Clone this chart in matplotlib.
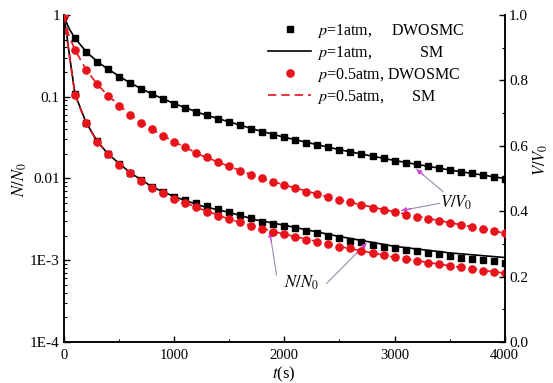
import matplotlib
matplotlib.use("Agg")
import matplotlib.pyplot as plt
import numpy as np
from matplotlib.ticker import FixedLocator, LogLocator, MultipleLocator, NullFormatter
from matplotlib.lines import Line2D

plt.rcParams['font.family'] = ['Liberation Serif', 'DejaVu Serif']
plt.rcParams['mathtext.fontset'] = 'stix'

# tiempos de los puntos DWOSMC (cada 100 s)
t_dw = np.arange(0, 4001, 100)

# V/V0 (eje derecho)
v_1atm_dw = [1.0, 0.929, 0.888, 0.857, 0.834, 0.810, 0.791, 0.774, 0.758, 0.742,
             0.728, 0.717, 0.704, 0.694, 0.681, 0.674, 0.664, 0.651, 0.643, 0.633,
             0.626, 0.618, 0.609, 0.602, 0.595, 0.588, 0.580, 0.574, 0.569, 0.562,
             0.554, 0.548, 0.544, 0.538, 0.533, 0.526, 0.521, 0.516, 0.511, 0.504, 0.498]
v_05atm_dw = [1.0, 0.893, 0.832, 0.788, 0.752, 0.722, 0.694, 0.671, 0.650, 0.630,
              0.613, 0.595, 0.579, 0.565, 0.551, 0.538, 0.524, 0.511, 0.501, 0.490,
              0.480, 0.470, 0.460, 0.452, 0.443, 0.433, 0.427, 0.419, 0.411, 0.404,
              0.398, 0.388, 0.381, 0.376, 0.370, 0.365, 0.358, 0.351, 0.345, 0.339, 0.332]

# N/N0 (eje izquierdo, log)
n_1atm_dw = [1.0, 0.107, 0.0481, 0.0287, 0.0199, 0.0149, 0.01175, 0.00955, 0.00778, 0.00687,
             0.00597, 0.00544, 0.00496, 0.00463, 0.00422, 0.00384, 0.00357, 0.00327, 0.00297, 0.00276,
             0.00266, 0.00247, 0.00229, 0.00215, 0.00199, 0.00186, 0.00174, 0.00165, 0.00154, 0.00145,
             0.00141, 0.00134, 0.00130, 0.00124, 0.00119, 0.00113, 0.00108, 0.00103, 0.00101, 0.000966, 0.000922]
n_05atm_dw = [1.0, 0.105, 0.0474, 0.0282, 0.0199, 0.0145, 0.0116, 0.00932, 0.00761, 0.00662,
              0.00565, 0.00500, 0.00448, 0.00390, 0.00343, 0.00318, 0.00290, 0.00266, 0.00242, 0.00224,
              0.00208, 0.00192, 0.00178, 0.00167, 0.00157, 0.00147, 0.00141, 0.00131, 0.00122, 0.00116,
              0.00109, 0.00103, 0.000966, 0.000938, 0.000904, 0.000855, 0.000824, 0.000785, 0.000749, 0.000728, 0.000695]

# curvas SM
t_sm = [0, 25, 50, 100, 200, 300, 400, 600, 800, 1000, 1250, 1500, 1750, 2000, 2500, 3000, 3500, 4000]
v_1atm_sm = [1.0, 0.975, 0.956, 0.929, 0.888, 0.858, 0.834, 0.792, 0.758, 0.729, 0.698, 0.673,
             0.648, 0.626, 0.588, 0.555, 0.526, 0.500]
v_05atm_sm = [1.0, 0.960, 0.932, 0.893, 0.833, 0.789, 0.753, 0.695, 0.650, 0.612, 0.570, 0.537,
              0.505, 0.480, 0.434, 0.398, 0.365, 0.333]
n_1atm_sm = [1.0, 0.57, 0.32, 0.107, 0.0485, 0.0288, 0.0199, 0.0118, 0.0079, 0.0060, 0.0046, 0.00385,
             0.0031, 0.00268, 0.00195, 0.00148, 0.00123, 0.00108]
n_05atm_sm = [1.0, 0.56, 0.31, 0.105, 0.0475, 0.0283, 0.0199, 0.0116, 0.0076, 0.0057, 0.0042, 0.00318,
              0.00254, 0.00208, 0.00147, 0.00109, 0.000855, 0.000695]

labels = ["$p$=1atm,     DWOSMC", "$p$=1atm,            SM",
          "$p$=0.5atm, DWOSMC", "$p$=0.5atm,       SM"]

rojo = '#e8141c'
fs = 11

fig = plt.figure(figsize=(5.53, 3.83), dpi=100)
ax = fig.add_axes([0.1157, 0.107, 0.797, 0.854])
ax2 = ax.twinx()

# N/N0
ax.plot(t_dw, n_1atm_dw, 's', color='k', ms=4.8, zorder=3)
ax.plot(t_sm, n_1atm_sm, '-', color='k', lw=1.2, zorder=4)
ax.plot(t_dw, n_05atm_dw, 'o', color=rojo, ms=6.2, mec='none', zorder=5)
ax.plot(t_sm, n_05atm_sm, '--', color=rojo, lw=1.2, dashes=(5, 3), zorder=6)
# V/V0
ax2.plot(t_dw, v_1atm_dw, 's', color='k', ms=4.8, zorder=3)
ax2.plot(t_sm, v_1atm_sm, '-', color='k', lw=1.2, zorder=4)
ax2.plot(t_dw, v_05atm_dw, 'o', color=rojo, ms=6.2, mec='none', zorder=5)
ax2.plot(t_sm, v_05atm_sm, '--', color=rojo, lw=1.2, dashes=(5, 3), zorder=6)

ax.set_yscale('log')
ax.set_ylim(1e-4, 1)
ax.set_xlim(0, 4000)
ax2.set_ylim(0, 1)

ax.yaxis.set_major_locator(FixedLocator([1e-4, 1e-3, 1e-2, 1e-1, 1]))
ax.set_yticklabels(['1E-4', '1E-3', '0.01', '0.1', '1'])
ax.yaxis.set_minor_locator(LogLocator(base=10, subs=np.arange(2, 10)))
ax.yaxis.set_minor_formatter(NullFormatter())
ax.xaxis.set_major_locator(MultipleLocator(1000))
ax.xaxis.set_minor_locator(MultipleLocator(500))
ax2.yaxis.set_major_locator(MultipleLocator(0.2))
ax2.yaxis.set_minor_locator(MultipleLocator(0.1))
ax2.set_yticklabels(['%.1f' % v for v in ax2.get_yticks()])

for a in (ax, ax2):
    a.spines['top'].set_visible(False)
    for s in a.spines.values():
        s.set_linewidth(1.1)
    a.tick_params(which='major', direction='in', length=4, width=1, labelsize=fs, pad=3)
    a.tick_params(which='minor', direction='in', length=2.5, width=0.8)
ax.tick_params(axis='x', pad=5, labelsize=fs - 0.5)
# el 0.0 de la derecha queda un poco por encima del eje, como en el original
ax2.yaxis.get_major_ticks()[0].label2.set_verticalalignment('bottom')

fig.text(20 / 553, 1 - 180 / 383, '$N/N_0$', rotation=90, ha='center', va='center', fontsize=fs + 1)
fig.text(541 / 553, 1 - 160 / 383, '$V/V_0$', rotation=90, ha='center', va='center', fontsize=fs + 1)
fig.text(284 / 553, 1 - 374 / 383, '$t$(s)', ha='center', va='center', fontsize=fs + 1)

# anotaciones: linea gris-violeta con punta magenta
linea = dict(arrowstyle='-', color='#9c8aaa', lw=0.8, shrinkA=0, shrinkB=0)
punta = dict(arrowstyle='-|>', color='#d040d8', lw=0.8, mutation_scale=7, shrinkA=0, shrinkB=0)


def flecha(a, tip, start, logy=False):
    a.annotate('', xy=tip, xytext=start, arrowprops=linea)
    # tramo corto cerca de la punta
    if logy:
        y0 = 10 ** (np.log10(tip[1]) + 0.25 * (np.log10(start[1]) - np.log10(tip[1])))
    else:
        y0 = tip[1] + 0.25 * (start[1] - tip[1])
    x0 = tip[0] + 0.25 * (start[0] - tip[0])
    a.annotate('', xy=tip, xytext=(x0, y0), arrowprops=punta)


ax2.text(3560, 0.425, '$V/V_0$', fontsize=fs + 1, ha='center', va='center')
flecha(ax2, (3200, 0.528), (3440, 0.46))
flecha(ax2, (3063, 0.402), (3410, 0.424))
ax.text(2150, 5.3e-4, '$N/N_0$', fontsize=fs + 1, ha='center', va='center')
flecha(ax, (1868, 0.00223), (1929, 6.6e-4), logy=True)
flecha(ax, (2745, 0.00161), (2383, 5.2e-4), logy=True)

handles = [Line2D([], [], marker='s', ls='none', color='k', ms=4.8),
           Line2D([], [], ls='-', color='k', lw=1.2),
           Line2D([], [], marker='o', ls='none', color=rojo, mec='none', ms=6.2),
           Line2D([], [], ls='--', color=rojo, lw=1.2, dashes=(5, 3))]
fig.legend(handles, labels, loc='upper left', bbox_to_anchor=(268 / 553, 1 - 22 / 383),
           frameon=False, fontsize=fs + 0.5, handlelength=2.7, handletextpad=0.35,
           labelspacing=0.25, borderpad=0, borderaxespad=0)

fig.savefig('out.png', dpi=100)
